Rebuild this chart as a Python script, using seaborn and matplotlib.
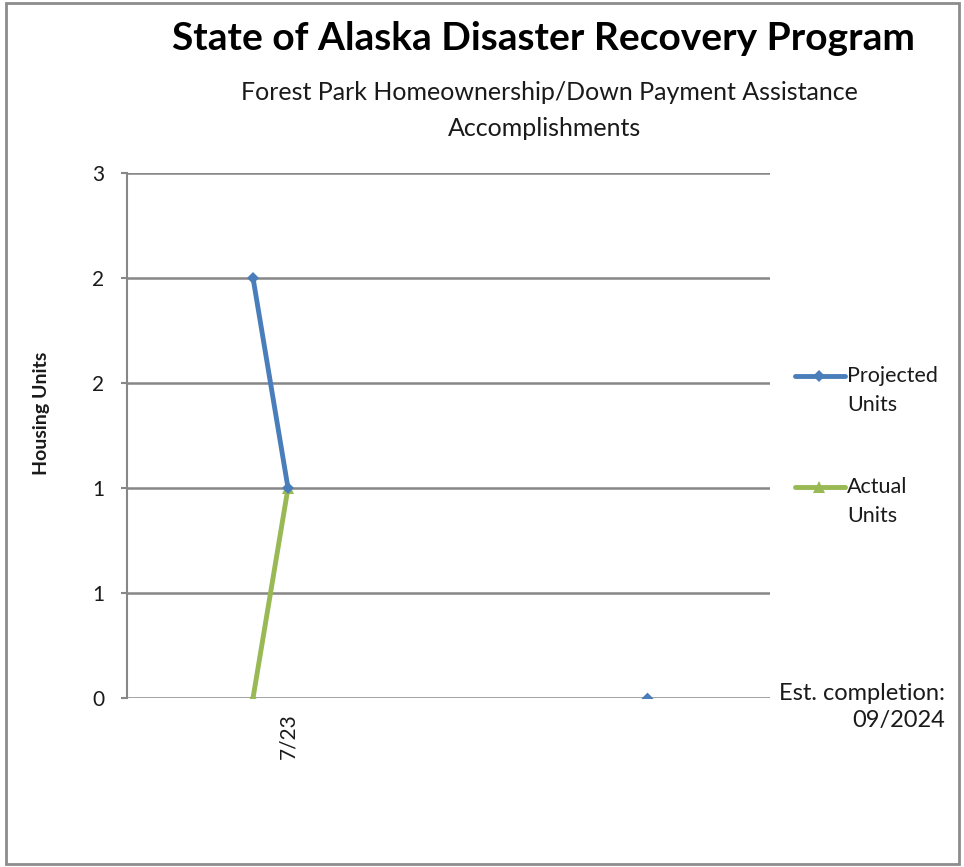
import numpy as np
import pandas as pd
from matplotlib import pyplot as plt
from matplotlib.lines import Line2D
from matplotlib.patches import Rectangle
import seaborn as sns

# x positions are months counted from the left edge of the axis
projected_x = [4.9, 6.26]
projected_units = [2.0, 1.0]
actual_x = [4.9, 6.26]
actual_units = [0.0, 1.0]
completion_x = [20.2]
completion_units = [0.0]

x_tick_pos = [6.26]
x_tick_labels = ["7/23"]
y_ticks = [0, 0.5, 1.0, 1.5, 2.0, 2.5]

blue = "#4A7EBB"
green = "#98B954"
grid_gray = "#878787"
text_col = "#1A1A1A"

sns.set_theme(style="white")
plt.rcParams['font.family'] = ['Lato', 'DejaVu Sans']

fig = plt.figure(figsize=(9.64, 8.67), dpi=100)
ax = fig.add_axes([127 / 964, 1 - 698 / 867, 643 / 964, 525 / 867])

proj = pd.DataFrame({"x": projected_x, "units": projected_units})
act = pd.DataFrame({"x": actual_x, "units": actual_units})
done = pd.DataFrame({"x": completion_x, "units": completion_units})

sns.lineplot(data=proj, x="x", y="units", ax=ax, color=blue, linewidth=3.5,
             marker="D", markersize=6, markeredgewidth=0, sort=False, zorder=4)
sns.lineplot(data=act, x="x", y="units", ax=ax, color=green, linewidth=3.5,
             marker="^", markersize=9, markeredgewidth=0, sort=False, zorder=3)
sns.scatterplot(data=done, x="x", y="units", ax=ax, color=blue, marker="D",
                s=36, linewidth=0, zorder=4)

ax.set_xlim(0, 25)
ax.set_ylim(0, 2.5)
ax.set_yticks(y_ticks)
ax.set_yticklabels([str(int(np.floor(v + 0.5))) for v in y_ticks], fontsize=15, color=text_col)
ax.set_xticks(x_tick_pos)
ax.set_xticklabels(x_tick_labels, rotation=90, fontsize=15, color=text_col)
ax.tick_params(axis="x", length=0, pad=11)
ax.tick_params(axis="y", length=4.5, width=1.5, color=grid_gray, direction="out", pad=12, left=True)

ax.grid(False)
for v in y_ticks:
    ax.axhline(v, color=grid_gray, linewidth=1.8, zorder=1)
for side in ["top", "right", "bottom"]:
    ax.spines[side].set_visible(False)
ax.spines["left"].set_color(grid_gray)
ax.spines["left"].set_linewidth(1.5)

ax.set_xlabel("")
ax.set_ylabel("Housing Units", fontsize=14, fontweight="bold", color=text_col)
ax.yaxis.set_label_coords(-0.12, 0.543)

fig.text(543 / 964, 1 - 38 / 867, "State of Alaska Disaster Recovery Program",
         ha="center", va="center", fontsize=28, fontweight="bold", color="black")
fig.text(549 / 964, 1 - 92 / 867, "Forest Park Homeownership/Down Payment Assistance",
         ha="center", va="center", fontsize=18, color=text_col)
fig.text(545 / 964, 1 - 129 / 867, "Accomplishments",
         ha="center", va="center", fontsize=18, color=text_col)

# legend drawn by hand so the key sits on the first line of each label
for y_px, col, mk, ms, words in [(376, blue, "D", 6, ["Projected", "Units"]),
                                 (487, green, "^", 8, ["Actual", "Units"])]:
    yf = 1 - y_px / 867
    fig.add_artist(Line2D([795 / 964, 845 / 964], [yf, yf], color=col, linewidth=3.5,
                          transform=fig.transFigure))
    fig.add_artist(Line2D([819 / 964], [yf], color=col, marker=mk, markersize=ms,
                          markeredgewidth=0, transform=fig.transFigure))
    fig.text(847 / 964, yf, words[0], ha="left", va="center", fontsize=15.5, color=text_col)
    fig.text(847 / 964, yf - 29 / 867, words[1], ha="left", va="center", fontsize=15.5, color=text_col)

fig.text(945 / 964, 1 - 693 / 867, "Est. completion:", ha="right", va="center",
         fontsize=17, color=text_col)
fig.text(945 / 964, 1 - 720 / 867, "09/2024", ha="right", va="center",
         fontsize=17, color=text_col)

fig.add_artist(Rectangle((6 / 964, 3 / 867), 953 / 964, 861 / 867, fill=False,
                         edgecolor="#8C8C8C", linewidth=2, transform=fig.transFigure))

plt.savefig("out.png", dpi=100)
